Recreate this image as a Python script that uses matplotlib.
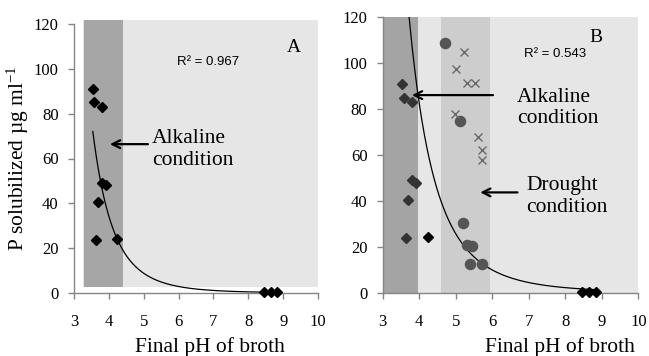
import numpy as np
import matplotlib
matplotlib.use("Agg")
import matplotlib.pyplot as plt
from matplotlib.patches import Rectangle

plt.rcParams['font.family'] = ['Liberation Serif', 'DejaVu Serif']
plt.rcParams['mathtext.fontset'] = 'custom'
plt.rcParams['mathtext.rm'] = 'Liberation Serif'
plt.rcParams['mathtext.default'] = 'regular'

# ---------------- data ----------------
# Alkaline-condition isolates (diamonds), same in both panels
alk_ph = [3.54, 3.58, 3.79, 3.79, 3.92, 3.68, 3.63]
alk_p = [90.9, 85.0, 83.1, 49.2, 48.0, 40.6, 23.8]
# other isolates (black diamonds)
blk_ph = [4.23, 8.45, 8.66, 8.83]
blk_p = [24.2, 0.3, 0.3, 0.3]
# drought-condition isolates, panel B
circ_ph = [4.71, 5.12, 5.21, 5.30, 5.44, 5.39, 5.71]
circ_p = [108.7, 74.9, 30.2, 20.8, 20.3, 12.5, 12.5]
cross_ph = [5.23, 5.01, 5.30, 5.53, 4.98, 5.62, 5.71, 5.71]
cross_p = [104.7, 97.3, 91.2, 91.2, 77.7, 67.7, 62.2, 57.8]

# power trendlines y = a * x^b
fit_a_A, fit_b_A = 1.589e5, -6.09
fit_a_B, fit_b_B = 1.163e5, -5.23
r2_A = "R² = 0.967"
r2_B = "R² = 0.543"

x_ticks = [3, 4, 5, 6, 7, 8, 9, 10]
y_ticks = [0, 20, 40, 60, 80, 100, 120]

W, H = 649, 356
fig = plt.figure(figsize=(W / 100, H / 100), dpi=100)

axA = fig.add_axes([74 / W, 1 - 293 / H, 244 / W, 269 / H])
axB = fig.add_axes([382.7 / W, 1 - 292.7 / H, 255.6 / W, 275.4 / H])

spine_c = '#858585'
for ax in (axA, axB):
    ax.set_xlim(3, 10)
    ax.set_ylim(0, 120)
    ax.set_xticks(x_ticks)
    ax.set_yticks(y_ticks)
    for s in ('top', 'right'):
        ax.spines[s].set_visible(False)
    for s in ('left', 'bottom'):
        ax.spines[s].set_color(spine_c)
        ax.spines[s].set_linewidth(1.0)
    ax.tick_params(axis='both', colors=spine_c, labelcolor='black', length=4,
                   width=1.0, direction='out', labelsize=12)
    ax.tick_params(axis='x', pad=11)
    ax.tick_params(axis='y', pad=7)
    ax.set_facecolor('none')

# ---------------- panel A ----------------
axA.add_patch(Rectangle((3.25, 2.8), 10 - 3.25, 121.6 - 2.8, facecolor='#e6e6e6',
                        edgecolor='none', zorder=0, clip_on=False))
axA.add_patch(Rectangle((3.29, 2.8), 4.41 - 3.29, 121.6 - 2.8, facecolor='#a6a6a6',
                        edgecolor='none', zorder=0.5, clip_on=False))
xa = np.linspace(min(alk_ph), max(blk_ph), 300)
axA.plot(xa, fit_a_A * xa ** fit_b_A, color='black', lw=0.9, zorder=2)
axA.plot(alk_ph, alk_p, 'D', color='black', ms=5.5, zorder=3, clip_on=False)
axA.plot(blk_ph, blk_p, 'D', color='black', ms=5.5, zorder=3, clip_on=False)
axA.text(5.95, 103, r2_A, family=['Liberation Sans'], fontsize=9.5, va='center', ha='left')
axA.text(9.30, 109.7, 'A', fontsize=14, va='center', ha='center')
axA.text(5.23, 64, 'Alkaline\ncondition', fontsize=15.5, va='center', ha='left',
         linespacing=1.15)
axA.annotate('', xy=(4.03, 66.4), xytext=(5.12, 66.4),
             arrowprops=dict(arrowstyle='->', color='black', lw=1.6,
                             mutation_scale=14, shrinkA=0, shrinkB=0))
axA.set_ylabel(r'P solubilized µg ml$^{-1}$', fontsize=15.5, labelpad=2)

fig.text(210 / W, 1 - 347 / H, 'Final pH of broth', fontsize=15.5, ha='center', va='center')

# ---------------- panel B ----------------
axB.add_patch(Rectangle((3, 0), 7, 120, facecolor='#e6e6e6', edgecolor='none', zorder=0))
axB.add_patch(Rectangle((3, 0), 3.975 - 3, 120, facecolor='#a4a4a4', edgecolor='none', zorder=0.5))
axB.add_patch(Rectangle((4.59, 0), 5.94 - 4.59, 120, facecolor='#cdcdcd', edgecolor='none', zorder=0.5))
xb = np.linspace(3.5, max(blk_ph), 400)
axB.plot(xb, fit_a_B * xb ** fit_b_B, color='black', lw=0.9, zorder=2)
axB.plot(alk_ph, alk_p, 'D', color='#333333', ms=5.5, zorder=3, clip_on=False)
axB.plot(blk_ph, blk_p, 'D', color='black', ms=5.5, zorder=3, clip_on=False)
axB.plot(circ_ph, circ_p, 'o', color='#555555', ms=7.3, zorder=3)
axB.plot(cross_ph, cross_p, 'x', color='#6a6a6a', ms=6, mew=1.0, zorder=3)
axB.text(6.87, 104, r2_B, family=['Liberation Sans'], fontsize=9.5, va='center', ha='left')
axB.text(8.84, 111.4, 'B', fontsize=14, va='center', ha='center')
axB.text(6.68, 80.3, 'Alkaline\ncondition', fontsize=15.5, va='center', ha='left',
         linespacing=1.15)
axB.text(6.93, 41.9, 'Drought\ncondition', fontsize=15.5, va='center', ha='left',
         linespacing=1.15)
axB.annotate('', xy=(3.80, 86.1), xytext=(6.02, 86.1),
             arrowprops=dict(arrowstyle='->', color='black', lw=1.6,
                             mutation_scale=14, shrinkA=0, shrinkB=0))
axB.annotate('', xy=(5.67, 43.7), xytext=(6.69, 43.7),
             arrowprops=dict(arrowstyle='->', color='black', lw=1.6,
                             mutation_scale=14, shrinkA=0, shrinkB=0))

fig.text(560 / W, 1 - 347 / H, 'Final pH of broth', fontsize=15.5, ha='center', va='center')

fig.savefig('out.png', dpi=100)
